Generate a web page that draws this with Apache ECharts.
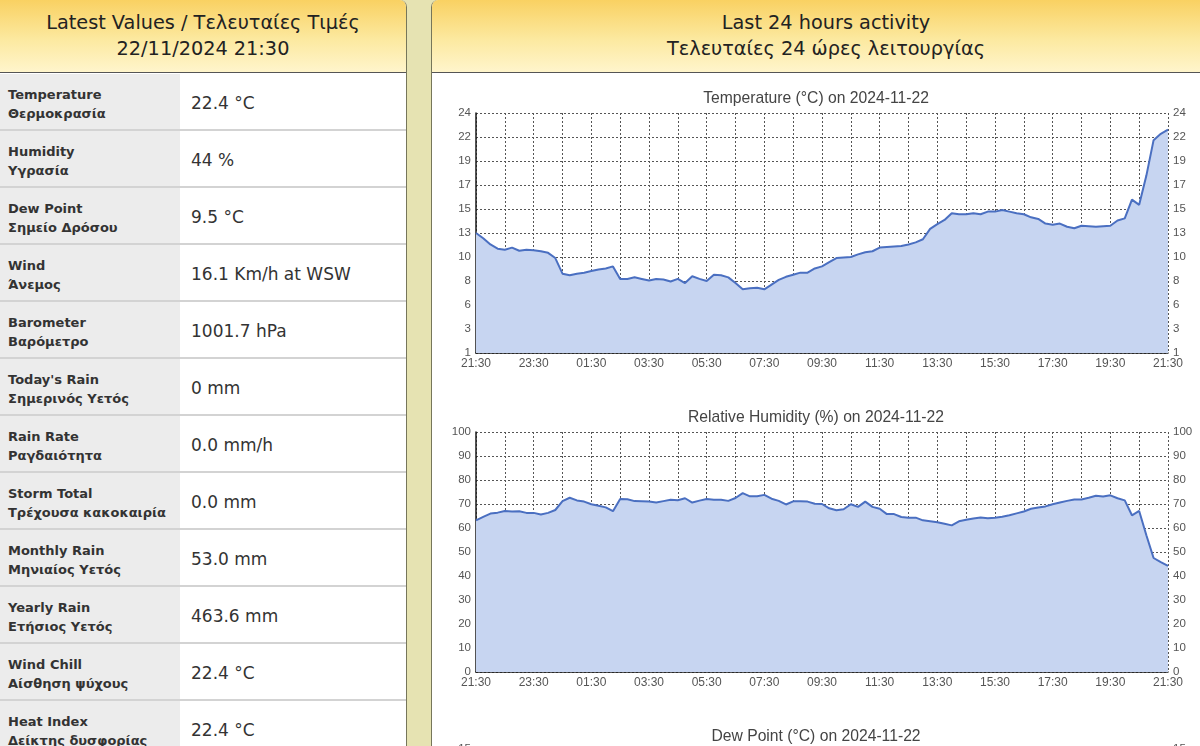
<!DOCTYPE html>
<html>
<head>
<meta charset="utf-8">
<script src="https://cdn.jsdelivr.net/npm/echarts@6/dist/echarts.min.js"></script>
<style>
html,body{margin:0;padding:0;width:1200px;height:746px;overflow:hidden;background:#e6e3b2;}
#left{position:absolute;left:0;top:0;width:406px;height:800px;background:#fff;border-right:1px solid #76765a;border-top-right-radius:7px;overflow:hidden;}
#right{position:absolute;left:431px;top:0;width:800px;height:1100px;background:#fff;border-left:1px solid #76765a;border-top-left-radius:7px;overflow:hidden;}
.hdr{position:absolute;left:0;top:0;right:0;height:73px;border-bottom:1px solid #555;background:linear-gradient(to bottom,#f9d162 0%,#fce9a0 55%,#fff5cc 100%);text-align:center;font-family:"DejaVu Sans",Verdana,sans-serif;font-size:19.3px;line-height:25.7px;color:#222;box-sizing:border-box;padding-top:10px;}
.row{position:absolute;left:0;width:406px;height:57px;border-bottom:2px solid #d3d3d3;box-sizing:border-box;}
.lab{position:absolute;left:0;top:0;width:180px;height:55px;background:#ececec;font-family:"DejaVu Sans",Verdana,sans-serif;font-weight:bold;font-size:13px;line-height:19px;color:#333;padding:11px 0 0 8px;box-sizing:border-box;white-space:nowrap;}
.val{position:absolute;left:191px;top:0;font-family:"DejaVu Sans",Verdana,sans-serif;font-size:17px;line-height:20px;color:#333;padding-top:19px;white-space:nowrap;}
#chart{position:absolute;left:0;top:74px;width:768px;height:1000px;}
</style>
</head>
<body>
<div id="left">
  <div class="hdr">Latest Values / Τελευταίες Τιμές<br>22/11/2024 21:30</div>
  <div id="rows"></div>
</div>
<div id="right">
  <div class="hdr" style="width:788px;">Last 24 hours activity<br>Τελευταίες 24 ώρες λειτουργίας</div>
  <div id="chart"></div>
</div>
<script>
// ---- table data ----
var rowLabelsEn = ["Temperature","Humidity","Dew Point","Wind","Barometer","Today's Rain","Rain Rate","Storm Total","Monthly Rain","Yearly Rain","Wind Chill","Heat Index"];
var rowLabelsEl = ["Θερμοκρασία","Υγρασία","Σημείο Δρόσου","Άνεμος","Βαρόμετρο","Σημερινός Υετός","Ραγδαιότητα","Τρέχουσα κακοκαιρία","Μηνιαίος Υετός","Ετήσιος Υετός","Αίσθηση ψύχους","Δείκτης δυσφορίας"];
var rowValues = ["22.4 °C","44 %","9.5 °C","16.1 Km/h at WSW","1001.7 hPa","0 mm","0.0 mm/h","0.0 mm","53.0 mm","463.6 mm","22.4 °C","22.4 °C"];

// ---- chart data (15-minute samples from 21:30 to 21:30) ----
var timeLabels = [];
(function(){
  var m = 21*60+30;
  for (var i=0;i<97;i++){
    var t=(m+i*15)%1440;
    var hh=Math.floor(t/60), mm=t%60;
    timeLabels.push((hh<10?'0':'')+hh+':'+(mm<10?'0':'')+mm);
  }
})();
var temperature = [12.5,12.0,11.4,11.0,10.9,11.1,10.8,10.9,10.85,10.75,10.6,10.1,8.6,8.45,8.6,8.7,8.85,9.0,9.1,9.3,8.1,8.1,8.25,8.1,7.95,8.1,8.05,7.85,8.1,7.7,8.35,8.1,7.9,8.5,8.45,8.25,7.7,7.1,7.2,7.25,7.1,7.55,8.0,8.3,8.5,8.7,8.7,9.1,9.3,
  9.7,10.1,10.15,10.2,10.45,10.65,10.75,11.1,11.15,11.2,11.25,11.4,11.6,11.9,12.9,13.35,13.75,14.4,14.3,14.3,14.4,14.3,14.55,14.55,14.7,14.55,14.4,14.3,14.0,13.85,13.4,13.3,13.4,13.1,12.95,13.2,13.15,13.1,13.15,13.2,13.7,13.9,15.7,15.2,18.0,21.4,22.0,22.4];
var humidity = [63.2,64.6,66,66.4,67.1,66.9,67.0,66.3,66.3,65.6,66.3,67.5,71.2,72.6,71.5,71.0,69.9,69.3,68.6,67,72.1,72.0,71.2,71.1,71.0,70.6,71.2,71.8,71.6,72.4,70.6,71.4,72.1,71.8,71.8,71.3,72.5,74.5,73.2,73.2,73.8,72.2,71.3,69.8,71.1,71.1,71.0,70.1,70.0,
  68.2,67.4,67.8,69.9,68.8,71.0,68.8,68.0,65.8,65.8,64.6,64.3,64.3,63.2,62.8,62.4,61.8,61.1,62.8,63.4,64.0,64.4,64.1,64.3,64.7,65.3,66.1,66.9,68.0,68.5,69.0,69.9,70.6,71.3,71.9,71.9,72.6,73.4,73.1,73.6,72.4,71.5,65.3,67.1,57,47.5,45.8,44.2];
var chartTitles = ["Temperature (°C) on 2024-11-22","Relative Humidity (%) on 2024-11-22","Dew Point (°C) on 2024-11-22"];

// ---- build table ----
var rowsEl = document.getElementById('rows');
for (var i=0;i<rowLabelsEn.length;i++){
  var r=document.createElement('div'); r.className='row'; r.style.top=(74+i*57)+'px';
  var l=document.createElement('div'); l.className='lab'; l.innerHTML=rowLabelsEn[i]+'<br>'+rowLabelsEl[i];
  var v=document.createElement('div'); v.className='val'; v.textContent=rowValues[i];
  r.appendChild(l); r.appendChild(v); rowsEl.appendChild(r);
}

// ---- chart ----
var FONT = 'Arial, "Liberation Sans", sans-serif';
var gridTops = [39, 358, 675];
var titleTops = [12, 331, 650];
var lineColor = '#4a6fc1', areaColor = '#c7d5f1';
var lab = {color:'#555', fontSize:11.5, fontFamily:FONT};

function xAxisFor(i){
  return {type:'category', gridIndex:i, data:timeLabels, boundaryGap:false,
    axisLine:{show:true, lineStyle:{color:'#1a1a1a', width:1.5}},
    axisTick:{show:false},
    axisLabel:Object.assign({interval:7, margin:5}, lab, {fontSize:12}),
    splitLine:{show:true, interval:3, lineStyle:{type:[2,2], color:'#555', width:1}}};
}
function yAxesFor(i, min, max, interval){
  var fmt = function(v){return String(Math.round(v));};
  return [
    {type:'value', gridIndex:i, min:min, max:max, interval:interval, position:'left',
     axisLine:{show:true, lineStyle:{color:'#1a1a1a', width:1.5}}, axisTick:{show:false},
     axisLabel:Object.assign({margin:5, formatter:fmt}, lab),
     splitLine:{show:true, lineStyle:{type:[2,2], color:'#555', width:1}}},
    {type:'value', gridIndex:i, min:min, max:max, interval:interval, position:'right',
     axisLine:{show:false}, axisTick:{show:false},
     axisLabel:Object.assign({margin:5, formatter:fmt}, lab),
     splitLine:{show:false}}
  ];
}
var yAxes = [].concat(yAxesFor(0,1,24,2.3), yAxesFor(1,0,100,10), yAxesFor(2,0,15,1.5));
var chart = echarts.init(document.getElementById('chart'), null, {renderer:'canvas'});
chart.setOption({
  animation:false,
  backgroundColor:'#fff',
  title: chartTitles.map(function(t,i){return {text:t, left:'center', top:titleTops[i], textStyle:{color:'#444', fontSize:15.7, fontWeight:'normal', fontFamily:FONT}};}),
  grid: gridTops.map(function(t){return {left:44, right:32, top:t, height:240};}),
  xAxis: [xAxisFor(0), xAxisFor(1), xAxisFor(2)],
  yAxis: yAxes,
  series: [
    {type:'line', xAxisIndex:0, yAxisIndex:0, data:temperature, showSymbol:false, symbol:'none',
     lineStyle:{color:lineColor, width:2}, areaStyle:{color:areaColor, opacity:1}, z:1},
    {type:'line', xAxisIndex:1, yAxisIndex:2, data:humidity, showSymbol:false, symbol:'none',
     lineStyle:{color:lineColor, width:2}, areaStyle:{color:areaColor, opacity:1}, z:1}
  ]
});
</script>
</body>
</html>
